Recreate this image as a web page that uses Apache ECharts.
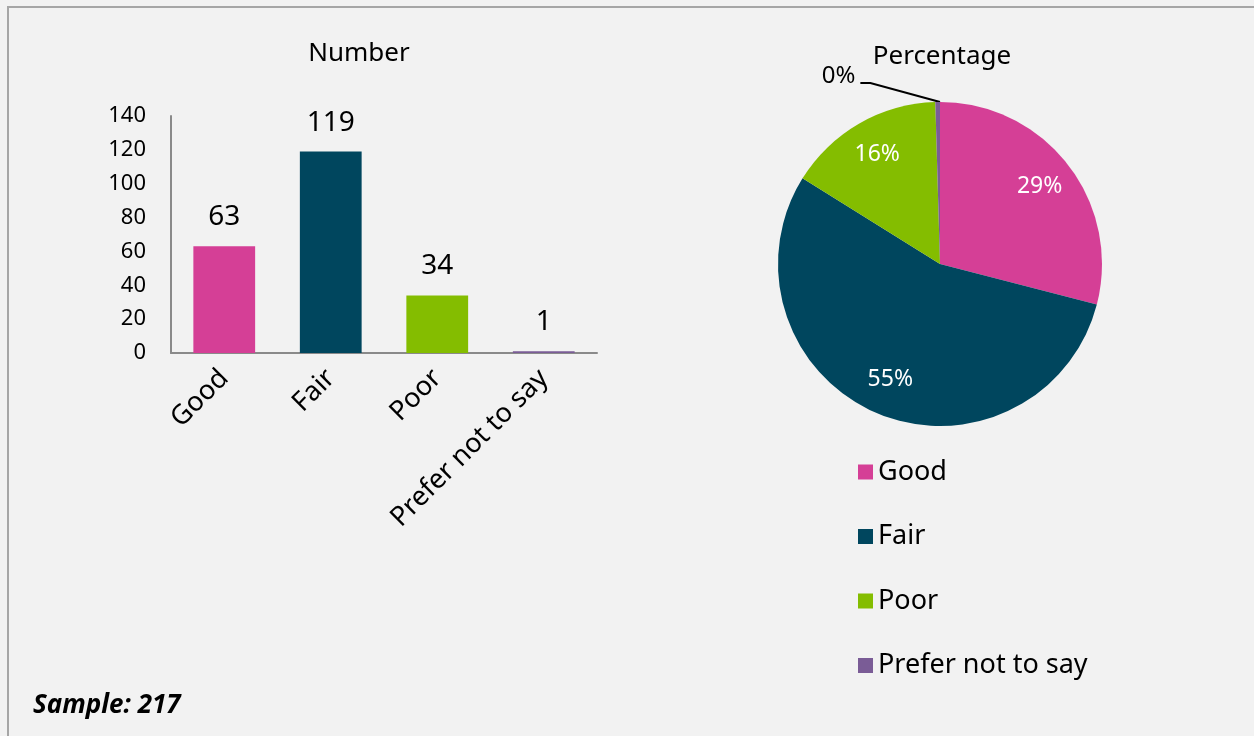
<!DOCTYPE html>
<html>
<head>
<meta charset="utf-8">
<script src="https://cdn.jsdelivr.net/npm/echarts@6/dist/echarts.min.js"></script>
<style>
html,body{margin:0;padding:0;background:#f2f2f2;}
#chart{position:absolute;left:0;top:0;width:1254px;height:736px;}
#frame{position:absolute;left:7px;top:6px;right:0;bottom:0;border-left:2px solid #a6a6a6;border-top:2px solid #a6a6a6;pointer-events:none;}
</style>
</head>
<body>
<div id="chart"></div>
<div id="frame"></div>
<script>
const categories = ['Good', 'Fair', 'Poor', 'Prefer not to say'];
const counts = [63, 119, 34, 1];
const colors = ['#d53f96', '#00465e', '#84bd00', '#7a5c96'];
const yTicks = { min: 0, max: 140, interval: 20 };
const sampleText = 'Sample: 217';

const FONT = 'Noto Sans';
const chart = echarts.init(document.getElementById('chart'), null, { renderer: 'canvas' });

const total = counts.reduce((a, b) => a + b, 0);
const isTiny = v => v / total < 0.01;
const barData = counts.map((v, i) => ({ value: v, itemStyle: { color: colors[i] } }));
const pieMain = counts.map((v, i) => ({
  name: categories[i], value: v, itemStyle: { color: colors[i] },
  label: { show: isTiny(v) },
  labelLine: { show: isTiny(v) }
}));
const pieOverlay = counts.map((v, i) => ({
  name: categories[i], value: v,
  label: { show: !isTiny(v) }
}));
const pctFmt = p => Math.round(p.percent) + '%';

chart.setOption({
  backgroundColor: '#f2f2f2',
  animation: false,
  textStyle: { fontFamily: FONT },
  title: [
    { text: 'Number', left: 354, top: 36, textAlign: 'center',
      textStyle: { fontFamily: FONT, fontSize: 26, fontWeight: 'normal', color: '#000' } },
    { text: 'Percentage', left: 937, top: 39, textAlign: 'center',
      textStyle: { fontFamily: FONT, fontSize: 26, fontWeight: 'normal', color: '#000' } },
    { text: sampleText, left: 28, top: 688,
      textStyle: { fontFamily: FONT, fontSize: 26, fontWeight: 'bold', fontStyle: 'italic', color: '#000' } }
  ],
  grid: { left: 171, right: 657, top: 116, bottom: 383, containLabel: false },
  xAxis: {
    type: 'category', data: categories,
    axisLine: { lineStyle: { color: '#8a8a8a', width: 2 } },
    axisTick: { show: false },
    axisLabel: { rotate: 45, fontSize: 27, color: '#000', margin: 21, fontFamily: FONT, interval: 0 }
  },
  yAxis: {
    type: 'value', min: yTicks.min, max: yTicks.max, interval: yTicks.interval,
    axisLine: { show: true, lineStyle: { color: '#8a8a8a', width: 2 } },
    axisTick: { show: false },
    splitLine: { show: false },
    axisLabel: { fontSize: 22, color: '#000', margin: 25, fontFamily: FONT }
  },
  legend: {
    orient: 'vertical', left: 853, top: 453,
    itemWidth: 15, itemHeight: 15, itemGap: 36.5, icon: 'rect',
    data: categories,
    textStyle: { fontSize: 27, lineHeight: 28, color: '#000', fontFamily: FONT, padding: [0, 0, 0, 0] }
  },
  series: [
    {
      type: 'bar', data: barData, barWidth: '58%',
      label: { show: true, position: 'top', distance: 15, fontSize: 28, color: '#000', fontFamily: FONT }
    },
    {
      type: 'pie', center: [940, 264], radius: 162, startAngle: 90, clockwise: true,
      data: pieMain,
      label: { position: 'outside', formatter: pctFmt, fontSize: 24, color: '#000', fontFamily: FONT },
      labelLine: { length: 20, length2: 10, lineStyle: { color: '#000', width: 2 } },
      labelLayout: function (p) {
        const dx = -67, dy = -6;
        const lr = p.labelRect;
        const right = lr.x + lr.width + dx;
        const cy = lr.y + lr.height / 2 + dy;
        const start = [p.rect.x + p.rect.width, p.rect.y];
        return {
          dx: dx, dy: dy,
          labelLinePoints: [start, [right + 15, cy + 7], [right + 5, cy + 7]]
        };
      },
      emphasis: { disabled: true }
    },
    {
      type: 'pie', center: [940, 264], radius: [84, 162], startAngle: 90, clockwise: true,
      data: pieOverlay, silent: true,
      itemStyle: { color: 'rgba(0,0,0,0)' },
      label: { position: 'inside', formatter: pctFmt, fontSize: 23, color: '#fff', fontFamily: FONT },
      labelLine: { show: false },
      emphasis: { disabled: true }
    }
  ]
});
</script>
</body>
</html>
